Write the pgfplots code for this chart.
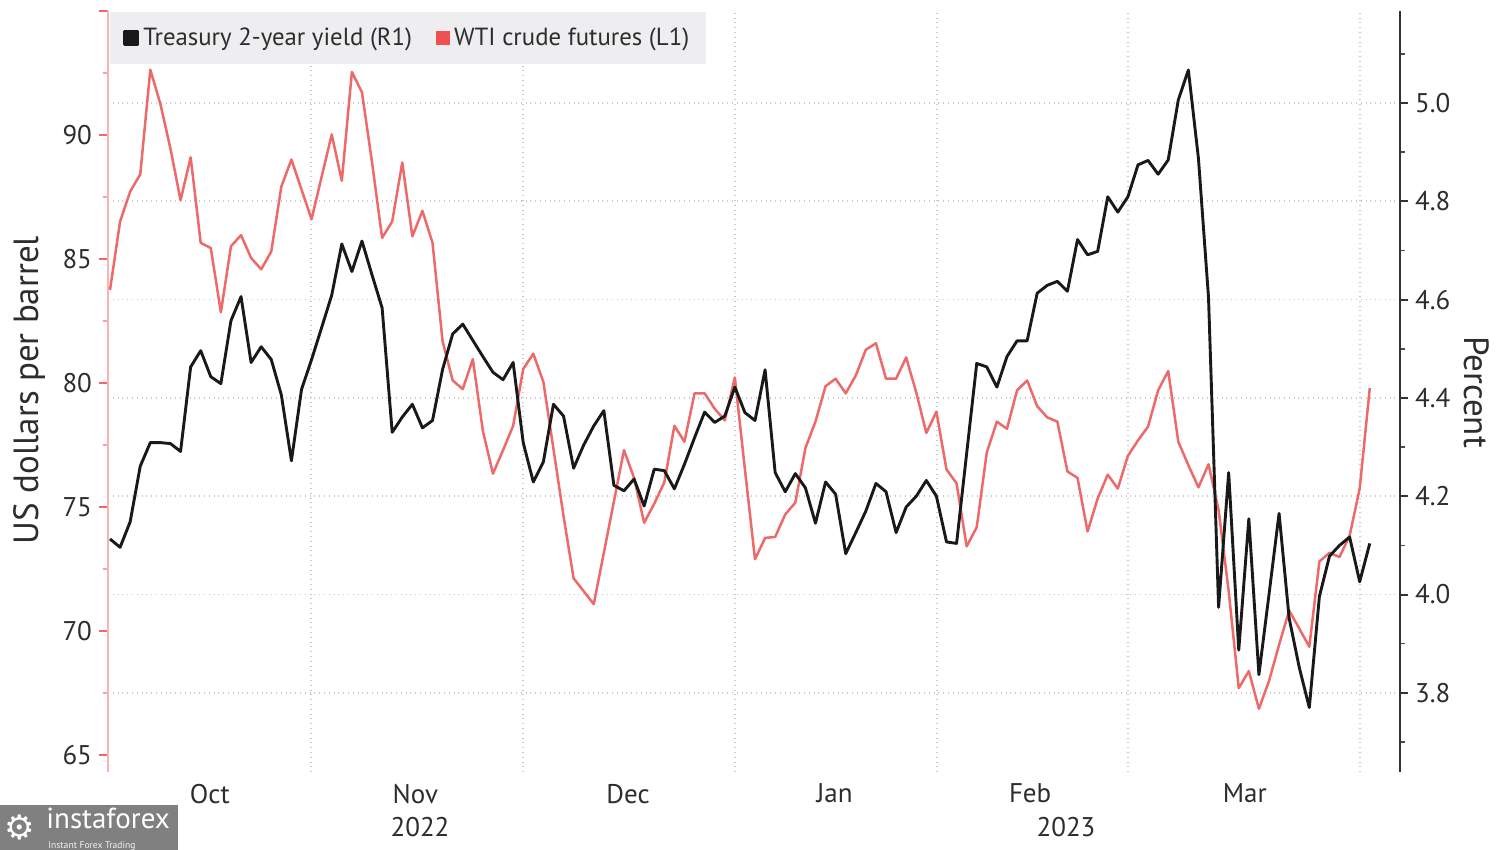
\documentclass[border=0pt]{standalone}
\usepackage{pgfplots}
\pgfplotsset{compat=1.18}
\usepackage{pgfplotstable}
\usepackage{fontspec}
\setmainfont{PT Sans}
\newfontfamily\djv{DejaVu Sans}
\definecolor{wti}{RGB}{238,105,105}
\definecolor{wtisq}{RGB}{240,80,80}
\definecolor{txt}{RGB}{45,45,45}
\definecolor{gridc}{RGB}{200,200,206}
\definecolor{laxis}{RGB}{246,180,180}
\definecolor{legbg}{RGB}{238,238,240}
\definecolor{wm}{RGB}{128,128,128}

\pgfplotstableread{
x y
0 83.75
1 86.51
2 87.72
3 88.41
4 92.63
5 91.25
6 89.44
7 87.37
8 89.10
9 85.65
10 85.44
11 82.85
12 85.51
13 85.96
14 85.04
15 84.58
16 85.30
17 87.92
18 89.01
19 87.80
20 86.60
21 88.32
22 90.02
23 88.15
24 92.54
25 91.72
26 88.89
27 85.85
28 86.51
29 88.89
30 85.91
31 86.94
32 85.65
33 81.68
34 80.10
35 79.75
36 80.96
37 78.06
38 76.34
39 77.29
40 78.27
41 80.56
42 81.18
43 80.04
44 77.34
45 74.63
46 72.12
47 71.60
48 71.08
49 73.15
50 75.22
51 77.29
52 76.17
53 74.36
54 75.13
55 75.99
56 78.27
57 77.63
58 79.58
59 79.58
60 78.96
61 78.49
62 80.22
63 76.51
64 72.89
65 73.75
66 73.79
67 74.70
68 75.17
69 77.37
70 78.44
71 79.87
72 80.17
73 79.58
74 80.30
75 81.34
76 81.60
77 80.17
78 80.17
79 81.03
80 79.61
81 77.98
82 78.84
83 76.51
84 75.95
85 73.41
86 74.18
87 77.20
88 78.44
89 78.15
90 79.70
91 80.10
92 79.06
93 78.61
94 78.44
95 76.43
96 76.17
97 74.01
98 75.34
99 76.30
100 75.74
101 77.06
102 77.68
103 78.24
104 79.70
105 80.48
106 77.63
107 76.68
108 75.79
109 76.72
110 74.87
111 71.60
112 67.69
113 68.38
114 66.86
115 67.98
116 69.44
117 70.82
118 70.10
119 69.36
120 72.80
121 73.15
122 72.98
123 73.84
124 75.74
125 79.79
}\wtitable

\pgfplotstableread{
x y
0 4.113
1 4.096
2 4.148
3 4.261
4 4.309
5 4.309
6 4.307
7 4.291
8 4.463
9 4.496
10 4.443
11 4.429
12 4.557
13 4.606
14 4.472
15 4.504
16 4.478
17 4.406
18 4.272
19 4.417
20 4.478
21 4.543
22 4.609
23 4.713
24 4.657
25 4.719
26 4.650
27 4.583
28 4.330
29 4.361
30 4.387
31 4.339
32 4.354
33 4.458
34 4.530
35 4.550
36 4.517
37 4.484
38 4.452
39 4.437
40 4.472
41 4.309
42 4.229
43 4.270
44 4.387
45 4.363
46 4.257
47 4.304
48 4.343
49 4.374
50 4.222
51 4.211
52 4.235
53 4.180
54 4.255
55 4.252
56 4.215
57 4.265
58 4.319
59 4.371
60 4.350
61 4.363
62 4.422
63 4.370
64 4.354
65 4.457
66 4.248
67 4.209
68 4.246
69 4.217
70 4.145
71 4.229
72 4.204
73 4.083
74 4.126
75 4.170
76 4.226
77 4.209
78 4.126
79 4.178
80 4.200
81 4.232
82 4.200
83 4.107
84 4.104
85 4.287
86 4.470
87 4.463
88 4.422
89 4.484
90 4.516
91 4.516
92 4.613
93 4.629
94 4.637
95 4.617
96 4.722
97 4.691
98 4.698
99 4.809
100 4.778
101 4.809
102 4.874
103 4.883
104 4.855
105 4.884
106 5.006
107 5.067
108 4.887
109 4.604
110 3.974
111 4.248
112 3.887
113 4.154
114 3.837
115 4.000
116 4.165
117 3.952
118 3.852
119 3.770
120 3.996
121 4.078
122 4.100
123 4.117
124 4.026
125 4.104
}\ustable

\begin{document}
\begin{tikzpicture}[x=1pt,y=1pt]
% left axis: WTI
\begin{axis}[
  set layers,
  at={(54pt,39pt)}, anchor=south west,
  scale only axis, width=646pt, height=380.5pt,
  xmin=-0.2, xmax=128, ymin=64.31, ymax=95,
  axis y line*=left, axis x line*=bottom,
  x axis line style={draw=none},
  y axis line style={draw=laxis, line width=0.8pt},
  xtick={9.9,30.3,51.4,71.9,91.3,112.6},
  xticklabels={Oct,Nov,Dec,Jan,Feb,Mar},
  minor xtick={19.94,40.97,62.0,82.04,101.0,124.0},
  xminorgrids,
  minor grid style={gridc, dotted, line width=0.9pt},
  xtick style={draw=none}, minor x tick style={draw=none},
  xticklabel style={yshift=2pt},
  ytick={65,70,75,80,85,90,95},
  yticklabels={65,70,75,80,85,90,{}},
  minor ytick={67.5,72.5,77.5,82.5,87.5,92.5},
  ytick style={wti, line width=1.3pt},
  minor y tick style={wti!60, line width=0.8pt},
  tick align=outside,
  major tick length=4.5pt, minor tick length=2.5pt,
  ticklabel style={font=\fontsize{13.5}{15}\selectfont, text=txt},
  /pgf/number format/assume math mode=true,
  ylabel={US dollars per barrel},
  ylabel style={at={(axis description cs:-0.0604,0.502)}, anchor=center, font=\fontsize{17.5}{20}\selectfont, text=txt},
  clip=false,
]
\addplot[wti, line width=1.25pt, line join=round] table[x=x,y=y] {\wtitable};
\end{axis}
% right axis: Treasury 2-year
\begin{axis}[
  set layers,
  at={(54pt,39pt)}, anchor=south west,
  scale only axis, width=646pt, height=380.5pt,
  xmin=-0.2, xmax=128, ymin=3.639, ymax=5.187,
  axis y line*=right, axis x line*=bottom,
  x axis line style={draw=none},
  xtick=\empty,
  y axis line style={draw=black!80, line width=1pt},
  ytick={3.8,4.0,4.2,4.4,4.6,4.8,5.0},
  minor ytick={3.7,3.9,4.1,4.3,4.5,4.7,4.9,5.1},
  ymajorgrids,
  major grid style={gridc, dotted, line width=0.9pt},
  ytick style={black!80, line width=1pt},
  minor y tick style={black!70, line width=0.8pt},
  tick align=outside,
  major tick length=4pt, minor tick length=2.5pt,
  yticklabel style={/pgf/number format/fixed, /pgf/number format/fixed zerofill, /pgf/number format/precision=1, font=\fontsize{13.5}{15}\selectfont, text=txt},
  /pgf/number format/assume math mode=true,
  ylabel={Percent},
  ylabel style={at={(axis description cs:1.0597,0.4993)}, anchor=center, rotate=180, font=\fontsize{17.5}{20}\selectfont, text=txt},
  legend style={at={(axis description cs:0.0015,0.999)}, anchor=north west, fill=legbg, draw=none,
    font=\fontsize{12.4}{14}\selectfont, text=txt, inner xsep=6.5pt, inner ysep=5.8pt,
    /tikz/every even column/.append style={column sep=10pt}},
  legend columns=2,
  legend image code/.code={\fill[#1] (0pt,-3.3pt) rectangle (6.6pt,3.3pt);},
  clip=false,
]
\addplot[black!90, line width=1.45pt, line join=round] table[x=x,y=y] {\ustable};
\addlegendentry{Treasury 2-year yield (R1)}
\addlegendimage{wtisq}
\addlegendentry{WTI crude futures (L1)}
\end{axis}
% year labels
\node[font=\fontsize{13.5}{15}\selectfont, text=txt] at (210,11.5) {2022};
\node[font=\fontsize{13.5}{15}\selectfont, text=txt] at (533,11.5) {2023};
% watermark
\fill[wm] (0,0) rectangle (89,22.5);
\node[anchor=west, text=white, font=\djv\fontsize{17}{17}\selectfont, inner sep=0] at (2,11.5) {⚙};
\node[anchor=base west, text=white, font=\fontsize{14.5}{15}\selectfont, inner sep=0] at (23,10.6) {instaforex};
\node[anchor=base west, text=white!90!gray, font=\fontsize{4.8}{5}\selectfont, inner sep=0] at (24,0.8) {Instant Forex Trading};
\pgfresetboundingbox
\useasboundingbox (0,0) rectangle (750,425);
\end{tikzpicture}
\end{document}
